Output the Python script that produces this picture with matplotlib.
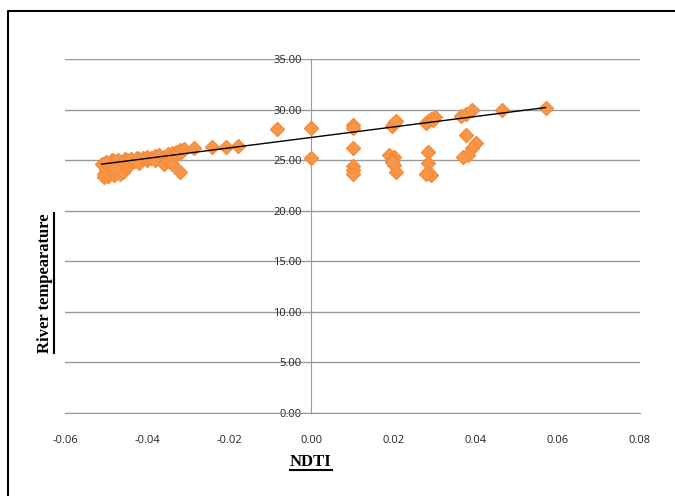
import numpy as np
import matplotlib.pyplot as plt
from matplotlib.lines import Line2D

# NDTI vs river temperature
ndti = [
    -0.0510, -0.0505, -0.0500, -0.0495, -0.0490, -0.0490, -0.0485, -0.0480,
    -0.0480, -0.0475, -0.0470, -0.0470, -0.0465, -0.0460, -0.0460, -0.0455,
    -0.0450, -0.0450, -0.0445, -0.0440, -0.0440, -0.0430, -0.0425, -0.0420,
    -0.0420, -0.0410, -0.0400, -0.0400, -0.0390, -0.0380, -0.0380, -0.0370,
    -0.0360, -0.0360, -0.0350, -0.0350, -0.0340, -0.0340, -0.0330, -0.0330,
    -0.0320, -0.0320, -0.0310, -0.0321, -0.0340, -0.0500, -0.0480, -0.0505,
    -0.0285, -0.0243, -0.0207, -0.0180,
    -0.0085, 0.0000, 0.0000,
    0.0100, 0.0100, 0.0100, 0.0100, 0.0100, 0.0100,
    0.0195, 0.0200, 0.0207, 0.0190, 0.0200, 0.0195, 0.0200, 0.0205, 0.0197,
    0.0280, 0.0285, 0.0300, 0.0290, 0.0295, 0.0285, 0.0285, 0.0283, 0.0290, 0.0280,
    0.0365, 0.0377, 0.0390, 0.0377, 0.0400, 0.0390, 0.0380, 0.0370,
    0.0465, 0.0570,
]
temp = [
    24.6, 23.6, 24.0, 23.4, 24.5, 23.8, 25.0, 24.9,
    23.5, 24.0, 24.2, 25.0, 23.6, 24.6, 23.8, 25.1,
    25.0, 24.3, 24.5, 24.8, 25.1, 24.9, 25.2, 25.1,
    24.7, 25.2, 25.0, 25.3, 25.2, 25.4, 25.0, 25.5,
    25.3, 24.6, 25.6, 24.9, 25.7, 25.3, 25.8, 25.5,
    26.0, 25.7, 26.1, 23.8, 24.6, 24.8, 24.2, 23.3,
    26.2, 26.3, 26.3, 26.4,
    28.1, 28.2, 25.2,
    28.5, 28.2, 26.2, 24.4, 24.0, 23.6,
    28.4, 28.7, 28.9, 25.5, 25.3, 25.0, 24.5, 23.8, 24.8,
    28.7, 28.9, 29.3, 29.1, 29.0, 25.8, 24.7, 23.8, 23.5, 23.6,
    29.4, 29.6, 30.0, 27.5, 26.7, 26.2, 25.5, 25.3,
    30.0, 30.2,
]

# trendline end points
trend_x = [-0.0511, 0.0570]
trend_y = [24.6, 30.2]

x_ticks = [-0.06, -0.04, -0.02, 0.00, 0.02, 0.04, 0.06, 0.08]
y_ticks = [0, 5, 10, 15, 20, 25, 30, 35]

plt.rcParams['font.family'] = ['Open Sans', 'DejaVu Sans']

fig = plt.figure(figsize=(6.75, 4.96), dpi=100)
ax = fig.add_axes([65/675, 1 - 413/496, 575/675, 354/496])

ax.plot(ndti, temp, linestyle='none', marker='D', markersize=7,
        color='#F79646', markeredgecolor='#F48C3C', zorder=3)
ax.plot(trend_x, trend_y, color='black', linewidth=1, zorder=4)

ax.set_xlim(-0.06, 0.08)
ax.set_ylim(0, 35)
ax.set_xticks(x_ticks)
ax.set_yticks(y_ticks)
ax.set_xticklabels(['%.2f' % v for v in x_ticks])
ax.set_yticklabels(['%.2f' % v for v in y_ticks])
ax.grid(axis='y', color='#999999', linewidth=1)
ax.set_axisbelow(True)

for s in ['top', 'right']:
    ax.spines[s].set_visible(False)
ax.spines['left'].set_position(('data', 0))
ax.spines['left'].set_color('#999999')
ax.spines['bottom'].set_color('#999999')
ax.tick_params(axis='both', length=0, labelsize=8, labelcolor='#222222')
ax.tick_params(axis='x', pad=16)
ax.tick_params(axis='y', pad=7)
for lbl in ax.get_yticklabels():
    lbl.set_zorder(5)

# underlined bold serif axis labels
t1 = fig.text(311/675, 1 - 462/496, 'NDTI', ha='center', va='center',
              family='Liberation Serif', fontweight='bold', fontsize=12)
t2 = fig.text(45/675, 1 - 283/496, 'River tempearature', ha='center', va='center',
              rotation=90, family='Liberation Serif', fontweight='bold', fontsize=12)
fig.canvas.draw()
r = fig.canvas.get_renderer()
inv = fig.transFigure.inverted()
bb = t1.get_window_extent(r).transformed(inv)
fig.add_artist(Line2D([bb.x0, bb.x1], [bb.y0 + 0.001, bb.y0 + 0.001],
                      color='black', linewidth=1.5, transform=fig.transFigure))
bb = t2.get_window_extent(r).transformed(inv)
fig.add_artist(Line2D([bb.x1 + 0.001, bb.x1 + 0.001], [bb.y0, bb.y1],
                      color='black', linewidth=1.5, transform=fig.transFigure))

# outer frame (left and top edges)
fig.add_artist(Line2D([8/675, 8/675, 1], [0, 1 - 11/496, 1 - 11/496],
                      color='black', linewidth=1.5, transform=fig.transFigure))

fig.savefig('out.png', dpi=100)
